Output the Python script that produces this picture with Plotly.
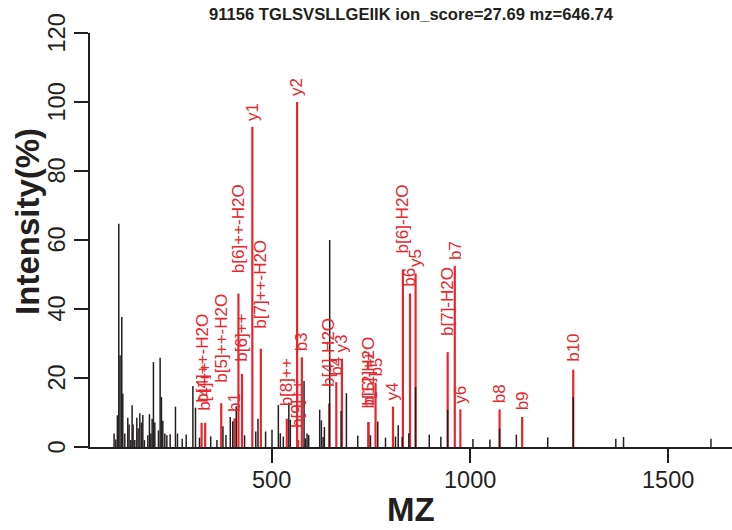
import plotly.graph_objects as go

# ---------------- data ----------------
title_text = "91156 TGLSVSLLGEIIK ion_score=27.69 mz=646.74"
x_title = "MZ"
y_title = "Intensity(%)"
x_ticks = [500, 1000, 1500]
y_ticks = [0, 20, 40, 60, 80, 100, 120]

# unannotated peaks (black)
black_mz = [102.2, 106.5, 110.5, 114.1, 117.3, 121.6, 124.2, 129.2, 136.8, 140.1,
            144.4, 147.7, 150.2, 154.5, 159.6, 162.9, 167.2, 171.2, 174.8, 178.8,
            187.4, 191.5, 195.0, 198.3, 201.6, 205.1, 214.2, 218.5, 221.8, 225.3,
            230.4, 235.5, 243.8, 257.2, 262.3, 274.2, 284.3, 301.2, 307.8, 317.9,
            346.2, 361.9, 377.1, 384.7, 395.6, 401.9, 410.7, 431.7, 460.0, 465.6,
            484.8, 501.0, 517.0, 522.0, 529.6, 543.5, 547.3, 581.9, 585.2, 589.5,
            593.6, 621.4, 625.7, 630.0, 633.3, 646.7, 675.5, 688.9, 717.5, 749.6,
            768.1, 787.6, 812.8, 819.7, 829.8, 846.5, 863.55, 898.1, 927.4, 944.57,
            1008.4, 1051.3, 1075.67, 1118.1, 1197.3, 1261.73, 1369.2, 1388.7, 1609.5]
black_int = [3.9, 2.2, 9.2, 64.7, 26.6, 37.7, 15.5, 3.9, 8.5, 6.5,
             2.0, 12.1, 6.5, 2.0, 8.5, 5.4, 9.8, 7.1, 9.3, 2.0,
             3.4, 9.5, 3.9, 8.2, 24.6, 7.1, 4.8, 25.9, 14.5, 7.6,
             3.9, 3.4, 3.7, 11.7, 3.9, 2.4, 3.6, 17.7, 11.4, 2.7,
             3.1, 2.0, 6.0, 3.5, 8.7, 7.5, 11.8, 3.4, 4.5, 8.2,
             4.5, 5.0, 12.2, 4.0, 3.0, 12.8, 7.9, 19.1, 2.5, 3.9,
             3.5, 10.8, 7.7, 2.9, 5.8, 60.0, 10.4, 15.6, 3.3, 3.4,
             7.4, 2.7, 3.0, 6.3, 3.0, 4.0, 17.4, 3.6, 3.0, 10.8,
             2.3, 2.2, 5.3, 3.6, 2.8, 14.5, 2.4, 2.9, 2.4]

# annotated fragment ions (red)
ion_label = ["b[4]++-H2O", "b[4]++", "b[5]++-H2O", "b1", "b[6]++-H2O", "b[6]++",
             "y1", "b[7]++-H2O", "b[8]++", "y2", "b[9]++", "b3", "b[4]-H2O", "b4",
             "y3", "b[5]-H2O", "b[12]++", "b5", "y4", "b[6]-H2O", "b6", "y5",
             "b[7]-H2O", "b7", "y6", "b8", "b9", "b10"]
ion_mz = [323.20, 332.20, 372.74, 406.26, 416.25, 425.25,
          451.32, 472.79, 538.34, 564.40, 566.85, 576.36, 645.39, 663.40,
          677.49, 744.46, 744.45, 762.47, 806.53, 831.49, 849.50, 863.55,
          944.57, 962.58, 976.64, 1075.67, 1132.69, 1261.73]
ion_int = [7.0, 7.0, 12.7, 8.3, 44.5, 21.2,
           92.8, 28.5, 8.2, 100.0, 2.0, 26.0, 12.6, 18.8,
           25.6, 7.2, 7.2, 18.6, 11.7, 51.5, 44.5, 50.3,
           27.5, 52.5, 10.9, 10.9, 8.7, 22.4]

# ---------------- style ----------------
FONT = "Liberation Sans, Arial, Helvetica, sans-serif"
INK = "#231f20"
RED = "#e8262b"
LABEL_SIZE = 17
TICK_SIZE = 23.5

CHAR_W = {"b": 0.556, "y": 0.5, "[": 0.278, "]": 0.278, "+": 0.584, "-": 0.333,
          "H": 0.722, "O": 0.778}


def text_width(s, size):
    return sum(CHAR_W.get(c, 0.556) for c in s) * size


def stems(xs, ys):
    X, Y = [], []
    for x, y in zip(xs, ys):
        X += [x, x, None]
        Y += [0, y, None]
    return X, Y


fig = go.Figure()

rx, ry = stems(ion_mz, ion_int)
fig.add_trace(go.Scatter(x=rx, y=ry, mode="lines",
                         line=dict(color=RED, width=2.2), hoverinfo="skip"))
bx, by = stems(black_mz, black_int)
fig.add_trace(go.Scatter(x=bx, y=by, mode="lines",
                         line=dict(color=INK, width=1.5), hoverinfo="skip"))

annotations = []
for lab, mz, it in zip(ion_label, ion_mz, ion_int):
    gap = 0.2 * text_width(lab, LABEL_SIZE) + 1.5
    annotations.append(dict(
        x=mz, y=it, xref="x", yref="y", text=lab, textangle=-90,
        xanchor="center", yanchor="bottom", yshift=gap, showarrow=False,
        borderpad=0, font=dict(family=FONT, size=LABEL_SIZE, color=RED)))

# tick labels (R style: rotated y labels, placed beyond the ticks)
for v in y_ticks:
    annotations.append(dict(x=0, y=v, xref="paper", yref="y", text=str(v),
                            textangle=-90, xanchor="center", yanchor="middle",
                            xshift=-33.5, showarrow=False, borderpad=0,
                            font=dict(family=FONT, size=TICK_SIZE, color=INK)))
for v in x_ticks:
    annotations.append(dict(x=v, y=0, xref="x", yref="paper", text=str(v),
                            xanchor="center", yanchor="middle",
                            yshift=-33, showarrow=False, borderpad=0,
                            font=dict(family=FONT, size=TICK_SIZE, color=INK)))

# titles
annotations.append(dict(x=0.5, y=1.0435, xref="paper", yref="paper",
                        text="<b>%s</b>" % title_text, showarrow=False,
                        xanchor="center", yanchor="middle",
                        font=dict(family=FONT, size=16.6, color=INK)))
annotations.append(dict(x=0.5, y=-0.152, xref="paper", yref="paper",
                        text="<b>%s</b>" % x_title, showarrow=False,
                        xanchor="center", yanchor="middle",
                        font=dict(family=FONT, size=33, color=INK)))
annotations.append(dict(x=-0.0966, y=0.546, xref="paper", yref="paper",
                        text="<b>%s</b>" % y_title, showarrow=False,
                        textangle=-90, xanchor="center", yanchor="middle",
                        font=dict(family=FONT, size=33, color=INK)))

axis_common = dict(showgrid=False, zeroline=False, showline=True,
                   linecolor=INK, linewidth=1.6, ticks="outside", ticklen=14,
                   tickwidth=1.6, tickcolor=INK, showticklabels=False)

fig.update_layout(
    width=732, height=530,
    margin=dict(l=90, r=0, t=33, b=83),
    plot_bgcolor="white", paper_bgcolor="white",
    showlegend=False,
    annotations=annotations,
    xaxis=dict(range=[41.4, 1662.6], tickvals=x_ticks, **axis_common),
    yaxis=dict(range=[0, 120], tickvals=y_ticks, **axis_common),
)

fig.write_html("out.html", config={"displayModeBar": False},
               post_script="document.body.style.margin='0';document.body.style.overflow='hidden';")
